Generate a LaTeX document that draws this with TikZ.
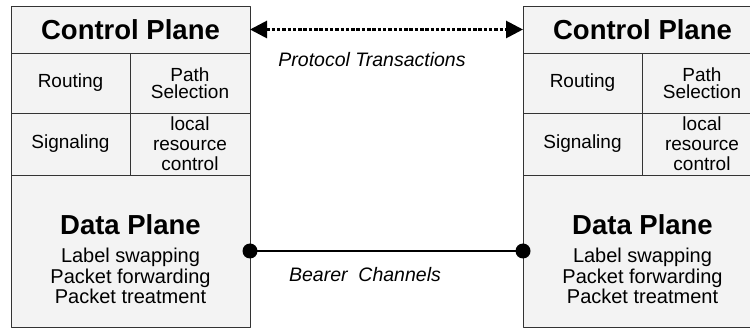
\documentclass[tikz,border=0pt]{standalone}
\usepackage{fontspec}
\setmainfont{Liberation Sans}
\usetikzlibrary{arrows.meta,positioning}

\definecolor{boxfill}{HTML}{F3F3F3}
\definecolor{boxline}{HTML}{333333}

\tikzset{
  cell/.style={draw=boxline, fill=boxfill, line width=0.9pt, inner sep=0pt, outer sep=0pt,
    anchor=north west, align=center, font=\fontsize{19}{17.5}\selectfont},
  title/.style={font=\bfseries\fontsize{27.5}{30}\selectfont},
  link/.style={line width=2.8pt, black},
  dot/.style={circle, fill=black, inner sep=0pt, minimum size=15pt},
  caption/.style={font=\itshape\fontsize{19.5}{22}\selectfont}
}

\begin{document}
\begin{tikzpicture}[x=1pt, y=-1pt, line join=round]
  \clip (0,0) rectangle (750,328);
  % one router on each side
  \foreach \s/\x in {l/11, r/523}{
    \node[cell, minimum width=239pt, minimum height=47pt, title] (cp-\s) at (\x,6) {Control Plane};
    \node[cell, minimum width=119pt, minimum height=60pt] (rt-\s) at (\x,53) {Routing};
    \node[cell, minimum width=120pt, minimum height=60pt] (ps-\s) at (\x+119,53) {Path\\Selection};
    \node[cell, minimum width=119pt, minimum height=62pt] (sg-\s) at (\x,113) {Signaling};
    \node[cell, minimum width=120pt, minimum height=62pt, font=\fontsize{19}{20}\selectfont]
      (lr-\s) at (\x+119,113) {local\\resource\\control};
    \node[cell, minimum width=239pt, minimum height=152pt] (dp-\s) at (\x,175) {};
    \node[title] (dpt-\s) at (\x+119.5,225) {Data Plane};
    \node[align=center, font=\fontsize{20}{20.8}\selectfont] (dpl-\s) at (\x+119.5,276)
      {Label swapping\\Packet forwarding\\Packet treatment};
  }
  % control traffic between the two planes
  \draw[link, dash pattern=on 3.5pt off 1.8pt,
    {Triangle[length=17pt,width=17pt]}-{Triangle[length=17pt,width=17pt]}] (cp-l.east) -- (cp-r.west);
  \node[caption] (pt) at (372,60) {Protocol Transactions};
  % data path
  \draw[link] (dp-l.east) -- (dp-r.west);
  \node[dot] (bl) at (dp-l.east) {};
  \node[dot] (br) at (dp-r.west) {};
  \node[caption] (bc) at (365,275) {Bearer\ \ Channels};
\end{tikzpicture}
\end{document}
